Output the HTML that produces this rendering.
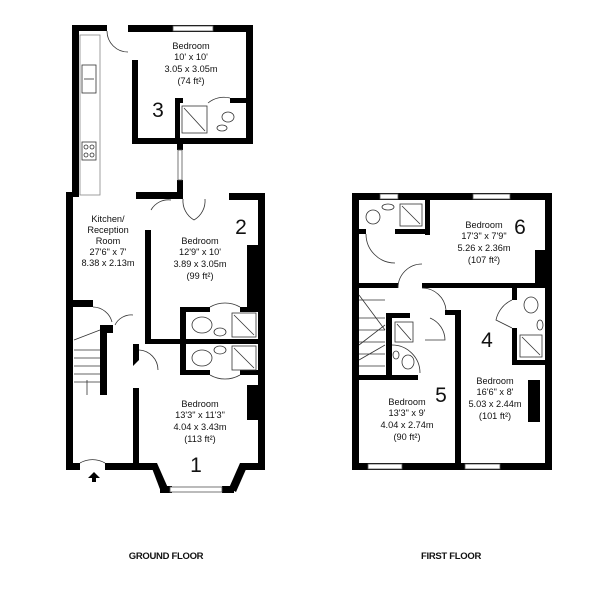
<!DOCTYPE html>
<html><head><meta charset="utf-8"><style>
html,body{margin:0;padding:0;background:#fff;}
svg{display:block;}
text{font-family:"Liberation Sans",sans-serif;fill:#111;}
.t{font-size:9.2px;text-anchor:middle;}
.n{font-size:21px;text-anchor:middle;}
.f{font-size:9.5px;font-weight:bold;text-anchor:middle;letter-spacing:-0.3px;}
</style></head><body>
<svg width="604" height="590" viewBox="0 0 604 590" xmlns="http://www.w3.org/2000/svg">
<rect width="604" height="590" fill="#fff"/>
<g fill="#000">
<rect x="72" y="25" width="7" height="172"/>
<rect x="66" y="192" width="7" height="278"/>
<rect x="72" y="25" width="35" height="6"/>
<rect x="128" y="25" width="125" height="7"/>
<rect x="246" y="25" width="7" height="119"/>
<rect x="132" y="60" width="6" height="84"/>
<rect x="132" y="138" width="121" height="6"/>
<rect x="175" y="99" width="5" height="45"/>
<rect x="175" y="98" width="8" height="5"/>
<rect x="230" y="98" width="20" height="5"/>
<rect x="177" y="144" width="6" height="6"/>
<rect x="177" y="180" width="6" height="18"/>
<rect x="136" y="192" width="47" height="7"/>
<rect x="229" y="193" width="36" height="7"/>
<rect x="258" y="193" width="7" height="277"/>
<rect x="247" y="245" width="12" height="65"/>
<rect x="145" y="230" width="6" height="113"/>
<rect x="145" y="339" width="113" height="5"/>
<rect x="180" y="307" width="6" height="68"/>
<rect x="180" y="307" width="30" height="5"/>
<rect x="240" y="307" width="18" height="5"/>
<rect x="180" y="370" width="30" height="5"/>
<rect x="240" y="370" width="18" height="5"/>
<rect x="247" y="385" width="12" height="35"/>
<rect x="133" y="344" width="6" height="6"/>
<polygon points="133,348 139,348 139,360 133,366 133,360"/>
<rect x="133" y="388" width="6" height="80"/>
<rect x="73" y="300" width="20" height="7"/>
<rect x="100" y="325" width="7" height="70"/>
<rect x="100" y="325" width="13" height="8"/>
<rect x="66" y="463" width="14" height="7"/>
<rect x="105" y="463" width="50" height="7"/>
<rect x="240" y="463" width="25" height="7"/>
<polygon points="150,463 157,463 168,488 161,492"/>
<polygon points="240,463 247,467 236,492 229,488"/>
<rect x="160" y="486" width="12" height="7"/>
<rect x="222" y="486" width="12" height="7"/>
<polygon points="88,478 94,472 100,478 96,478 96,482 92,482 92,478"/>
<rect x="352" y="193" width="200" height="7"/>
<rect x="352" y="193" width="7" height="277"/>
<rect x="545" y="193" width="7" height="277"/>
<rect x="352" y="463" width="200" height="7"/>
<rect x="425" y="200" width="5" height="35"/>
<rect x="395" y="229" width="35" height="5"/>
<rect x="358" y="229" width="8" height="5"/>
<rect x="352" y="283" width="46" height="5"/>
<rect x="422" y="283" width="123" height="5"/>
<rect x="535" y="250" width="12" height="35"/>
<rect x="455" y="310" width="6" height="155"/>
<rect x="445" y="310" width="16" height="5"/>
<rect x="386" y="313" width="24" height="5"/>
<rect x="386" y="313" width="6" height="67"/>
<rect x="358" y="375" width="60" height="5"/>
<rect x="512" y="287" width="5" height="13"/>
<rect x="512" y="328" width="5" height="37"/>
<rect x="512" y="360" width="33" height="5"/>
<rect x="528" y="380" width="12" height="42"/>
</g>
<g fill="#fff" stroke="#555" stroke-width="0.8">
<rect x="173" y="26" width="40" height="5"/>
<rect x="178" y="150" width="4" height="30"/>
<rect x="170" y="487" width="52" height="5"/>
<rect x="473" y="194" width="37" height="5"/>
<rect x="368" y="464" width="34" height="5"/>
<rect x="465" y="464" width="35" height="5"/>
<rect x="380" y="194" width="18" height="5"/>
<rect x="80" y="35" width="20" height="160" stroke="#888"/>
</g>
<g fill="none" stroke="#333" stroke-width="0.8">
<rect x="82" y="65" width="14" height="28"/><line x1="84" y1="79" x2="94" y2="79"/>
<rect x="82" y="142" width="14" height="18"/>
<circle cx="86" cy="147" r="2"/><circle cx="92" cy="147" r="2"/><circle cx="86" cy="155" r="2"/><circle cx="92" cy="155" r="2"/>
<rect x="182" y="106" width="25" height="27"/><line x1="184" y1="108" x2="205" y2="131"/>
<ellipse cx="228" cy="117" rx="6" ry="5"/><ellipse cx="222" cy="128" rx="5" ry="3"/>
<path d="M208 103 A25 25 0 0 1 230 98"/>
<path d="M107 31 A21 21 0 0 0 128 52"/>
<path d="M183 199 A22 22 0 0 0 194 220 M205 199 A22 22 0 0 1 194 220"/>
<path d="M151 210 A20 20 0 0 1 171 200"/>
<rect x="232" y="313" width="24" height="24"/><line x1="234" y1="315" x2="254" y2="335"/>
<rect x="232" y="346" width="24" height="24"/><line x1="234" y1="348" x2="254" y2="368"/>
<ellipse cx="202" cy="325" rx="10" ry="8"/><ellipse cx="220" cy="332" rx="6" ry="4"/>
<ellipse cx="202" cy="358" rx="10" ry="8"/><ellipse cx="220" cy="350" rx="6" ry="4"/>
<path d="M210 307 A30 30 0 0 1 240 307"/>
<path d="M210 375 A30 30 0 0 0 240 375"/>
<path d="M139 350 A20 20 0 0 1 158 370"/>
<path d="M93 307 A20 20 0 0 1 112 322"/>
<path d="M115 325 A18 18 0 0 1 133 315"/>
<path d="M80 463 A25 25 0 0 1 105 463"/>
<line x1="74" y1="340" x2="100" y2="330"/>
<line x1="74" y1="350" x2="100" y2="350"/><line x1="74" y1="358" x2="100" y2="358"/><line x1="74" y1="366" x2="100" y2="366"/><line x1="74" y1="374" x2="100" y2="374"/><line x1="74" y1="382" x2="100" y2="382"/>
<line x1="87" y1="380" x2="87" y2="395"/>
<rect x="400" y="204" width="22" height="22"/><line x1="402" y1="206" x2="420" y2="224"/>
<ellipse cx="373" cy="217" rx="7" ry="7"/><ellipse cx="388" cy="207" rx="6" ry="3"/>
<path d="M366 234 A29 29 0 0 0 395 263"/>
<path d="M398 288 A24 24 0 0 1 422 264"/>
<path d="M422 288 A24 24 0 0 1 446 310"/>
<path d="M430 318 A24 24 0 0 1 445 340 L425 340"/>
<path d="M392 345 A28 28 0 0 1 420 373"/>
<rect x="395" y="322" width="18" height="20"/><line x1="397" y1="324" x2="411" y2="340"/>
<ellipse cx="408" cy="362" rx="6" ry="7"/><ellipse cx="396" cy="355" rx="3" ry="4"/>
<rect x="520" y="335" width="22" height="22"/><line x1="522" y1="337" x2="540" y2="355"/>
<ellipse cx="531" cy="305" rx="7" ry="8"/><ellipse cx="540" cy="325" rx="3" ry="5"/>
<path d="M512 300 A28 28 0 0 0 496 320 L512 328"/>
<path d="M359 300 L385 300 M359 318 L385 318 M359 330 L385 330 M359 342 L385 342 M359 354 L385 354 M359 366 L385 366"/>
<path d="M359 295 L385 330 M359 345 L385 325 M359 360 L385 345"/>
</g>
<text class="t" x="191" y="49">Bedroom</text>
<text class="t" x="191" y="60">10' x 10'</text>
<text class="t" x="191" y="72">3.05 x 3.05m</text>
<text class="t" x="191" y="84">(74 ft²)</text>
<text class="n" x="158" y="117">3</text>
<text class="t" x="108" y="222">Kitchen/</text>
<text class="t" x="108" y="233">Reception</text>
<text class="t" x="108" y="244">Room</text>
<text class="t" x="108" y="255">27'6" x 7'</text>
<text class="t" x="108" y="266">8.38 x 2.13m</text>
<text class="n" x="241" y="234">2</text>
<text class="t" x="200" y="244">Bedroom</text>
<text class="t" x="200" y="255">12'9" x 10'</text>
<text class="t" x="200" y="267">3.89 x 3.05m</text>
<text class="t" x="200" y="279">(99 ft²)</text>
<text class="t" x="200" y="407">Bedroom</text>
<text class="t" x="200" y="418">13'3" x 11'3"</text>
<text class="t" x="200" y="430">4.04 x 3.43m</text>
<text class="t" x="200" y="442">(113 ft²)</text>
<text class="n" x="196" y="472">1</text>
<text class="t" x="484" y="228">Bedroom</text>
<text class="t" x="484" y="239">17'3" x 7'9"</text>
<text class="t" x="484" y="251">5.26 x 2.36m</text>
<text class="t" x="484" y="263">(107 ft²)</text>
<text class="n" x="520" y="234">6</text>
<text class="n" x="487" y="347">4</text>
<text class="t" x="495" y="384">Bedroom</text>
<text class="t" x="495" y="395">16'6" x 8'</text>
<text class="t" x="495" y="407">5.03 x 2.44m</text>
<text class="t" x="495" y="419">(101 ft²)</text>
<text class="n" x="441" y="402">5</text>
<text class="t" x="407" y="405">Bedroom</text>
<text class="t" x="407" y="416">13'3" x 9'</text>
<text class="t" x="407" y="428">4.04 x 2.74m</text>
<text class="t" x="407" y="440">(90 ft²)</text>
<text class="f" x="166" y="559">GROUND FLOOR</text>
<text class="f" x="451" y="559">FIRST FLOOR</text>
</svg>
</body></html>
